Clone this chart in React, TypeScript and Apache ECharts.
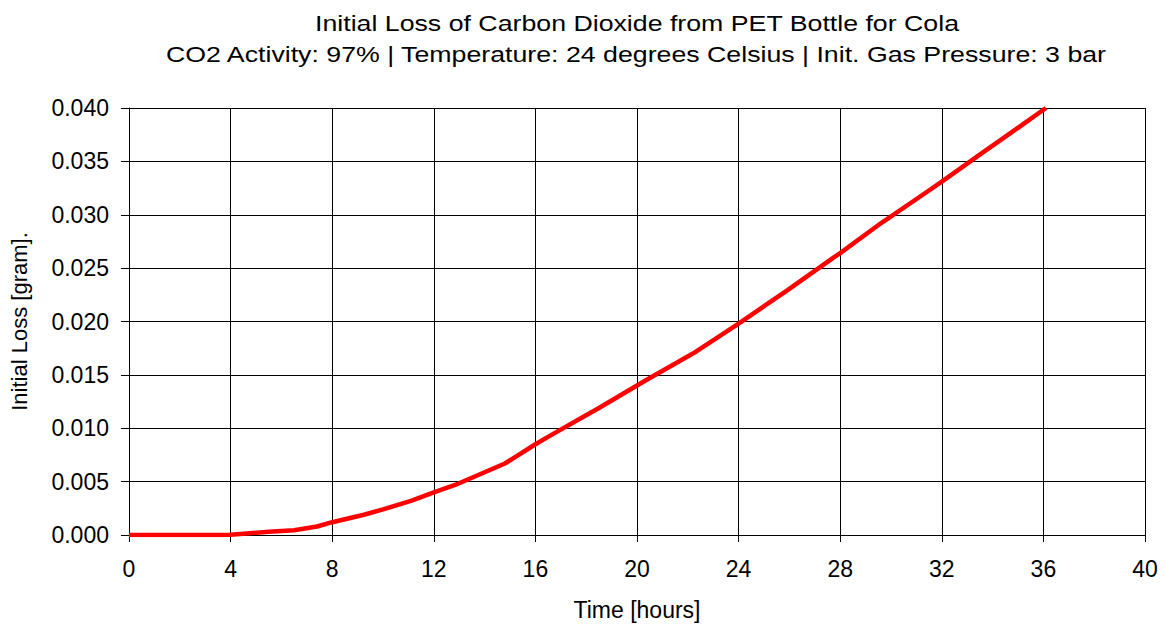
import React, { useEffect, useRef } from "react";
import * as echarts from "echarts";

const hours = [0, 2, 3.7, 4, 5.5, 6.5, 7.4, 8, 9.25, 10, 11.1, 12, 12.95, 14.8, 16, 16.65, 18.5, 20, 20.35, 22.2, 24, 25.9, 27.75, 28, 29.6, 31.45, 32, 33.3, 35.15, 36.1];
const loss = [0, 0, 0, 0.00002, 0.0003, 0.00045, 0.0008, 0.0012, 0.0019, 0.0024, 0.0032, 0.004, 0.0048, 0.0067, 0.0085, 0.0094, 0.0119, 0.014, 0.0145, 0.017, 0.0198, 0.0229, 0.026, 0.0264, 0.0292, 0.0322, 0.0331, 0.0353, 0.0384, 0.04];

const titleLine1 = "Initial Loss of Carbon Dioxide from PET Bottle for Cola";
const titleLine2 = "CO2 Activity: 97% | Temperature: 24 degrees Celsius | Init. Gas Pressure: 3 bar";
const xName = "Time [hours]";
const yName = "Initial Loss [gram].";

const FONT = "'Liberation Sans', Arial, sans-serif";

export default function App() {
  const ref = useRef<HTMLDivElement>(null);
  useEffect(() => {
    if (!ref.current) return;
    const chart = echarts.init(ref.current, null, { renderer: "svg" });
    chart.setOption({
      animation: false,
      backgroundColor: "#fff",
      textStyle: { fontFamily: FONT },
      graphic: [
        {
          type: "text",
          x: 637,
          y: 23,
          scaleX: 1.215,
          style: { text: titleLine1, font: `22px ${FONT}`, fill: "#000", textAlign: "center", textVerticalAlign: "middle" },
        },
        {
          type: "text",
          x: 636,
          y: 54,
          scaleX: 1.215,
          style: { text: titleLine2, font: `22px ${FONT}`, fill: "#000", textAlign: "center", textVerticalAlign: "middle" },
        },
      ],
      grid: { left: 129, right: 21, top: 108, bottom: 89, containLabel: false },
      xAxis: {
        type: "value",
        min: 0,
        max: 40,
        interval: 4,
        name: xName,
        nameLocation: "middle",
        nameGap: 63,
        nameTextStyle: { color: "#000", fontSize: 23, fontFamily: FONT },
        axisLine: { show: true, lineStyle: { color: "#000", width: 1 } },
        axisTick: { show: true, length: 7, lineStyle: { color: "#000" } },
        axisLabel: { color: "#000", fontSize: 23, fontFamily: FONT, margin: 22 },
        splitLine: { show: true, lineStyle: { color: "#000", width: 1 } },
      },
      yAxis: {
        type: "value",
        min: 0,
        max: 0.04,
        interval: 0.005,
        name: yName,
        nameLocation: "middle",
        nameGap: 99,
        nameTextStyle: { color: "#000", fontSize: 22, fontFamily: FONT },
        axisLine: { show: true, lineStyle: { color: "#000", width: 1 } },
        axisTick: { show: true, length: 8, lineStyle: { color: "#000" } },
        axisLabel: { color: "#000", fontSize: 23, fontFamily: FONT, margin: 20, formatter: (v: number) => v.toFixed(3) },
        splitLine: { show: true, lineStyle: { color: "#000", width: 1 } },
      },
      series: [
        {
          type: "line",
          data: hours.map((h, i) => [h, loss[i]]),
          showSymbol: false,
          symbol: "none",
          lineStyle: { color: "#ff0000", width: 4.5 },
          clip: true,
        },
      ],
    });
    return () => chart.dispose();
  }, []);
  return <div ref={ref} style={{ position: "absolute", left: 0, top: 0, width: 1166, height: 626 }} />;
}
